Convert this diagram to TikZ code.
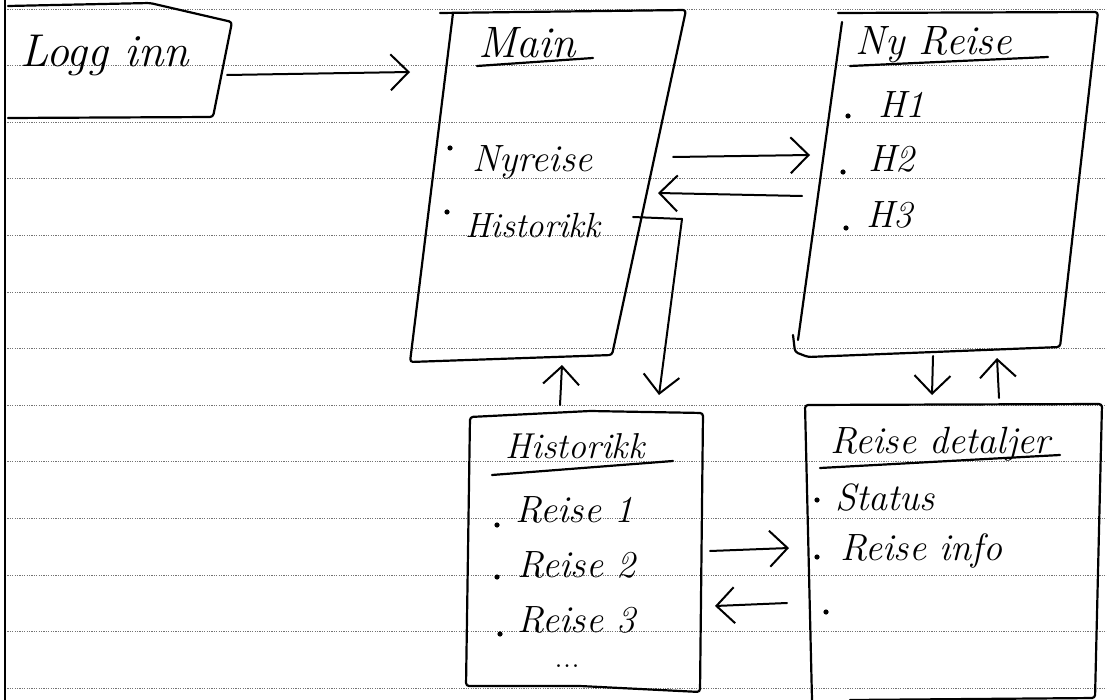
\documentclass[tikz,border=0pt]{standalone}
\usepackage{amsmath, amssymb}
\usepackage{tikz}
\usetikzlibrary{positioning, calc, arrows.meta}

\tikzset{
  sketch/.style={line width=2.2pt, line join=round, line cap=round, rounded corners=3pt},
  pil/.style={line width=2pt, line cap=round, line join=round, -{Straight Barb[length=18pt, width=36pt]}},
  stor/.style={anchor=base west, inner sep=0pt, font=\fontsize{46}{50}\selectfont\itshape},
  tittel/.style={anchor=base west, inner sep=0pt, font=\fontsize{38}{42}\selectfont\itshape},
  punkt/.style={anchor=base west, inner sep=0pt, font=\fontsize{38}{42}\selectfont\itshape},
  linje/.style={black!55, line width=0.7pt, dash pattern=on 1.2pt off 1.2pt}
}

\begin{document}
\begin{tikzpicture}[x=1pt, y=-1pt]
\useasboundingbox (0,0) rectangle (1107,700);
% ruled paper
\foreach \k in {0,...,12}
  \draw[linje] (5,{9+56.6*\k}) -- (1107,{9+56.6*\k});
\draw[line width=2.6pt] (5,0) -- (5,700);

% Logg inn
\draw[sketch] (8,6) -- (150,3) -- (232,22) -- (213,117) -- (8,118);
\node[stor] (login) at (20,67) {Logg inn};

% Main
\draw[sketch] (440,13) -- (686,10) -- (612,355) -- (410,362) -- (453,13);
\node[tittel, font=\fontsize{44}{48}\selectfont\itshape] (main) at (478,58) {Main};
\draw[sketch] (477,66) -- (593,58);
\node[punkt] (nyreise) at (472,172) {Nyreise};
\node[punkt, font=\fontsize{35}{40}\selectfont\itshape] (historikk) at (465,238) {Historikk};

% Ny Reise
\draw[sketch] (838,13) -- (1098,12) -- (1060,347) -- (808,357) -- (795,352) -- (793,335);
\draw[sketch] (842,22) -- (798,340);
\node[tittel, font=\fontsize{41}{45}\selectfont\itshape] (ny) at (855,55) {Ny Reise};
\draw[sketch] (850,66) -- (1048,57);
\node[punkt] (h1) at (878,118) {H1};
\node[punkt] (h2) at (868,172) {H2};
\node[punkt] (h3) at (866,228) {H3};

% Historikk
\draw[sketch] (470,417) -- (590,411) -- (703,413) -- (700,692) -- (580,686) -- (466,686) -- cycle;
\node[tittel, font=\fontsize{36}{40}\selectfont\itshape] (hist) at (505,458) {Historikk};
\draw[sketch] (492,475) -- (673,461);
\node[punkt] (r1) at (515,522) {Reise 1};
\node[punkt] (r2) at (517,577) {Reise 2};
\node[punkt] (r3) at (517,632) {Reise 3};
\node[anchor=base, inner sep=0pt, font=\fontsize{34}{36}\selectfont] (mer) at (567,667) {...};

% Reise detaljer
\draw[sketch] (812,700) -- (805,405) -- (1102,404) -- (1095,698) -- (850,700);
\node[tittel] (detaljer) at (830,453) {Reise detaljer};
\draw[sketch] (820,468) -- (1060,455);
\node[punkt] (status) at (835,510) {Status};
\node[punkt] (info) at (840,560) {Reise info};

% bullets
\foreach \p in {(450,148),(447,212),(848,116),(843,172),(846,228),
                (497,525),(497,577),(500,634),(817,500),(817,557),(826,612)}
  \fill \p circle[radius=2.6pt];

% arrow ends
\coordinate (loginUt) at (227,75);
\coordinate (mainInn) at (410,72);
\coordinate (mainUt) at (673,157);
\coordinate (nyInn) at (810,155);
\coordinate (nyUt) at (802,196);
\coordinate (mainTilbake) at (658,193);
\coordinate (histStart) at (633,217);
\coordinate (histKnekk) at (682,219);
\coordinate (histInn) at (659,395);
\coordinate (histUt) at (560,405);
\coordinate (mainNed) at (562,365);
\coordinate (nyNed) at (933,356);
\coordinate (detInn) at (932,395);
\coordinate (detUt) at (999,398);
\coordinate (nyOpp) at (997,358);
\coordinate (histHoyre) at (710,551);
\coordinate (detVenstre) at (789,548);
\coordinate (detTilbake) at (787,603);
\coordinate (histTilbake) at (715,606);

\draw[pil] (loginUt) -- (mainInn);
\draw[pil] (mainUt) -- (nyInn);
\draw[pil] (nyUt) -- (mainTilbake);
\draw[pil] (histStart) -- (histKnekk) -- (histInn);
\draw[pil] (histUt) -- (mainNed);
\draw[pil] (nyNed) -- (detInn);
\draw[pil] (detUt) -- (nyOpp);
\draw[pil] (histHoyre) -- (detVenstre);
\draw[pil] (detTilbake) -- (histTilbake);
\end{tikzpicture}
\end{document}
